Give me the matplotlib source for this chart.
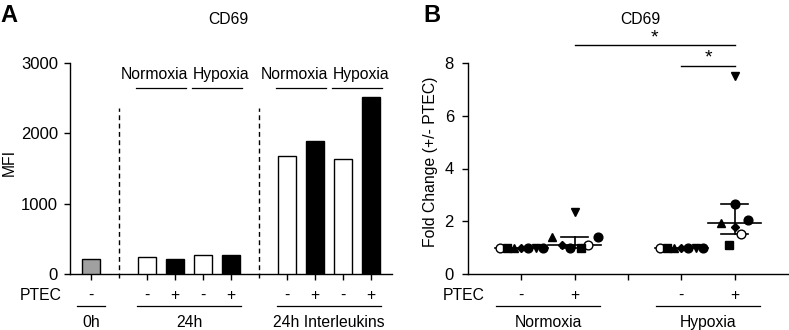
import numpy as np
import matplotlib
matplotlib.use('Agg')
import matplotlib.pyplot as plt

plt.rcParams['font.family'] = ['Liberation Sans', 'DejaVu Sans']
FS = 11.3

# ---- panel A data (MFI of CD69) ----
group_names = ['0h', '24h', '24h Interleukins']
group_sizes = [1, 4, 4]
mfi_values = [220, 235, 215, 265, 275, 1680, 1890, 1630, 2510]
ptec_a = ['-', '-', '+', '-', '+', '-', '+', '-', '+']
bar_colors = ['#a0a0a0', 'white', 'black', 'white', 'black', 'white', 'black', 'white', 'black']
oxygen_labels = ['Normoxia', 'Hypoxia']

# ---- panel B data (fold change +/- PTEC, one value per donor) ----
conditions = ['Normoxia', 'Hypoxia']
donor_markers = ['o', 's', '^', 'D', 'o', 'v', 'o']
donor_faces = ['white', 'black', 'black', 'black', 'black', 'black', 'black']
normoxia_minus = [1.0, 1.0, 1.0, 1.0, 1.0, 1.0, 1.0]
normoxia_plus = [1.1, 1.0, 1.4, 1.1, 1.0, 2.35, 1.4]
hypoxia_minus = [1.0, 1.0, 1.0, 1.0, 1.0, 1.0, 1.0]
hypoxia_plus = [1.5, 1.1, 1.95, 1.8, 2.65, 7.5, 2.05]

# horizontal spread of the donor symbols inside a column (layout only)
spread_flat = np.linspace(-0.4, 0.4, 7)
spread_np = [0.25, 0.11, -0.42, -0.23, -0.08, 0.0, 0.43]
spread_hp = [0.11, -0.11, -0.25, 0.0, 0.0, 0.0, 0.25]

fig = plt.figure(figsize=(7.89, 3.3), dpi=100)
W, H = 789, 330
axA = fig.add_axes([70 / W, 56 / H, 322 / W, 211 / H])
axB = fig.add_axes([468 / W, 56 / H, 320 / W, 211 / H])

for ax in (axA, axB):
    ax.spines['top'].set_visible(False)
    ax.spines['right'].set_visible(False)
    ax.spines['left'].set_linewidth(1)
    ax.spines['bottom'].set_linewidth(1)
    ax.tick_params(direction='out', length=4.3, width=1, labelsize=12)

# ---------------- panel A ----------------
positions = []
group_centers = []
start = 0
for n in group_sizes:
    pos = list(range(start, start + n))
    positions += pos
    group_centers.append((pos[0] + pos[-1]) / 2)
    start += n + 1
separators = sorted(set(p - 1 for p in positions if p > 0 and p - 1 not in positions))

axA.bar(positions, mfi_values, width=0.62, color=bar_colors, edgecolor='black', linewidth=1, zorder=3)
axA.set_xlim(-0.75, 10.75)
axA.set_ylim(0, 3000)
axA.set_yticks([0, 1000, 2000, 3000])
axA.set_xticks(positions)
axA.set_xticklabels([])
axA.tick_params(axis='y', pad=4.3)

for s in separators:
    axA.plot([s, s], [-60, 2360], ls=(0, (3.5, 2.5)), color='black', lw=1, clip_on=False)

for p, lab in zip(positions, ptec_a):
    axA.text(p, -300, lab, ha='center', va='center', fontsize=FS)
axA.text(-1.04, -300, 'PTEC', ha='right', va='center', fontsize=FS)

for c, n, name in zip(group_centers, group_sizes, group_names):
    half = 0.5 if n == 1 else 1.86
    axA.plot([c - half, c + half], [-457, -457], color='black', lw=0.9, clip_on=False)
    axA.text(c, -690, name, ha='center', va='center', fontsize=FS)

# Normoxia / Hypoxia headers above the 24h groups
text_shift = [-0.22, 0.14]
for g in range(1, len(group_sizes)):
    first = sum(group_sizes[:g])
    pos = positions[first:first + group_sizes[g]]
    for k, lab in enumerate(oxygen_labels):
        cx = (pos[2 * k] + pos[2 * k + 1]) / 2
        axA.plot([cx - 0.9, cx + 0.9], [2643, 2643], color='black', lw=0.9, clip_on=False)
        axA.text(cx + text_shift[k], 2843, lab, ha='center', va='center', fontsize=FS)

fig.text(228 / W, 1 - 20 / H, 'CD69', ha='center', va='center', fontsize=FS)
fig.text(9 / W, 168 / H, 'MFI', ha='center', va='center', rotation=90, fontsize=FS)
fig.text(0 / W, 1 - 15 / H, 'A', ha='left', va='center', fontsize=17, fontweight='bold')

# ---------------- panel B ----------------
columns = [
    (1, normoxia_minus, spread_flat, '-'),
    (2, normoxia_plus, spread_np, '+'),
    (4, hypoxia_minus, spread_flat, '-'),
    (5, hypoxia_plus, spread_hp, '+'),
]
for x0, vals, spread, lab in columns:
    vals = np.asarray(vals)
    med = np.median(vals)
    q1, q3 = np.percentile(vals, [25, 75], method='weibull')
    axB.plot([x0 - 0.5, x0 + 0.5], [med, med], color='black', lw=1.2, zorder=2)
    if q3 > q1:
        axB.plot([x0, x0], [q1, q3], color='black', lw=1.2, zorder=2)
        for q in (q1, q3):
            axB.plot([x0 - 0.25, x0 + 0.25], [q, q], color='black', lw=1.2, zorder=2)
    for v, dx, m, fc in zip(vals, spread, donor_markers, donor_faces):
        axB.plot(x0 + dx, v, marker=m, markersize=6.3 if m != 'D' else 4.5,
                 markerfacecolor=fc, markeredgecolor='black', markeredgewidth=1,
                 ls='none', zorder=4, clip_on=False)
    axB.text(x0, -0.8, lab, ha='center', va='center', fontsize=FS)

axB.set_xlim(0, 6)
axB.set_ylim(0, 8)
axB.set_yticks([0, 2, 4, 6, 8])
axB.set_xticks([1, 2, 3, 4, 5])
axB.set_xticklabels([])
axB.tick_params(axis='y', pad=5.8)

axB.text(0.32, -0.8, 'PTEC', ha='right', va='center', fontsize=FS)
for c, name in zip([1.5, 4.5], conditions):
    axB.plot([c - 0.97, c + 0.97], [-1.22, -1.22], color='black', lw=0.9, clip_on=False)
    axB.text(c, -1.82, name, ha='center', va='center', fontsize=FS)

# significance brackets
for x1, x2, y in [(2, 5, 8.67), (4, 5, 7.9)]:
    axB.plot([x1, x2], [y, y], color='black', lw=1, clip_on=False)
    axB.text((x1 + x2) / 2, y - 0.05, '*', ha='center', va='bottom', fontsize=14)

fig.text(640 / W, 1 - 20 / H, 'CD69', ha='center', va='center', fontsize=FS)
fig.text(431 / W, 168 / H, 'Fold Change (+/- PTEC)', ha='center', va='center', rotation=90, fontsize=FS)
fig.text(423 / W, 1 - 15 / H, 'B', ha='left', va='center', fontsize=17, fontweight='bold')

fig.savefig('out.png', dpi=100)
